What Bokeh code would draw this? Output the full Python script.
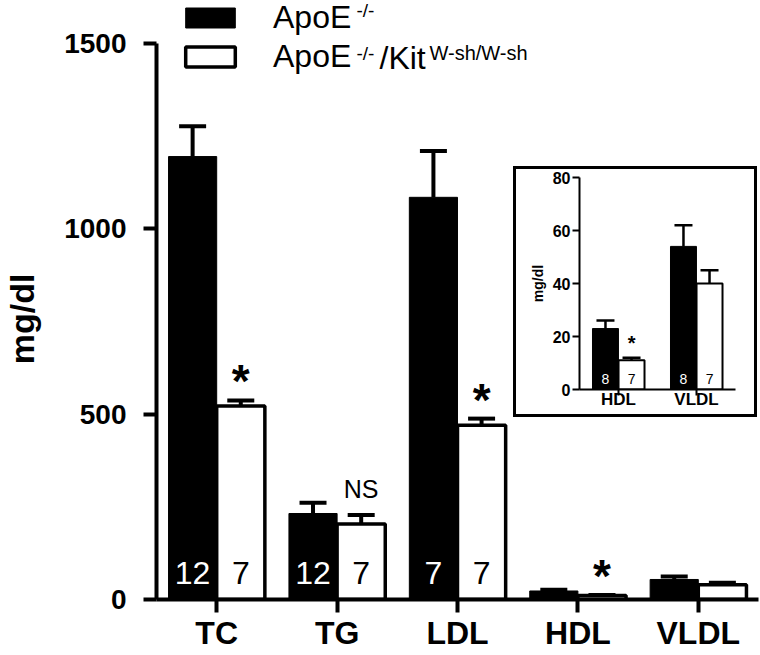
from bokeh.plotting import figure
from bokeh.models import (ColumnDataSource, FactorRange, Range1d, Whisker, TeeHead,
                          FixedTicker, Legend, LegendItem, Label)
from bokeh.transform import dodge
from bokeh.layouts import column
from bokeh.core.properties import value
from bokeh.embed import file_html
from bokeh.resources import INLINE

# ---------------- data ----------------
categories = ["TC", "TG", "LDL", "HDL", "VLDL"]
apoe_mean = [1195, 232, 1085, 23, 54]
apoe_sem = [82, 29, 125, 3, 8]
kit_mean = [522, 204, 470, 11, 40]
kit_sem = [15, 24, 18, 1, 5]
apoe_n = ["12", "12", "7", "", ""]
kit_n = ["7", "7", "7", "", ""]
kit_sig = ["*", "NS", "*", "*", ""]

inset_categories = ["HDL", "VLDL"]
inset_apoe_mean = [23, 54]
inset_apoe_sem = [3, 8]
inset_kit_mean = [11, 40]
inset_kit_sem = [1, 5]
inset_apoe_n = ["8", "8"]
inset_kit_n = ["7", "7"]
inset_sig = ["*", ""]

main_ticks = [0, 500, 1000, 1500]
inset_ticks = [0, 20, 40, 60, 80]

FONT = "'Liberation Sans', Arial, sans-serif"
NBSP = "\u00a0"

# ---------------- main figure ----------------
src = ColumnDataSource(dict(
    cat=categories,
    apoe=apoe_mean,
    apoe_up=[m + s for m, s in zip(apoe_mean, apoe_sem)],
    kit=kit_mean,
    kit_up=[m + s for m, s in zip(kit_mean, kit_sem)],
    apoe_n=apoe_n, kit_n=kit_n,
))
star_idx = [i for i, s in enumerate(kit_sig) if s == "*"]
ns_idx = [i for i, s in enumerate(kit_sig) if s == "NS"]
star_src = ColumnDataSource(dict(cat=[categories[i] for i in star_idx],
                                 y=[kit_mean[i] + kit_sem[i] for i in star_idx],
                                 t=[kit_sig[i] for i in star_idx]))
ns_src = ColumnDataSource(dict(cat=[categories[i] for i in ns_idx],
                               y=[kit_mean[i] + kit_sem[i] for i in ns_idx],
                               t=[kit_sig[i] for i in ns_idx]))

p = figure(x_range=FactorRange(*categories, range_padding=0), y_range=Range1d(0, 1616),
           width=760, height=655, output_backend="svg", toolbar_location=None,
           min_border_left=155, min_border_right=2, min_border_top=0, min_border_bottom=56,
           frame_align=False)
p.outline_line_color = None
p.xgrid.grid_line_color = None
p.ygrid.grid_line_color = None
p.background_fill_color = "white"
p.border_fill_color = "white"

xa = p.xaxis[0]
xa.axis_line_width = 4
xa.major_tick_line_width = 4
xa.major_tick_out = 13
xa.major_tick_in = 0
xa.major_label_text_font = FONT
xa.major_label_text_font_style = "bold"
xa.major_label_text_font_size = "32px"
xa.major_label_text_color = "black"
xa.major_label_text_line_height = 0.8
xa.major_label_standoff = 2
xa.axis_label_standoff = 0

ya = p.yaxis[0]
ya.ticker = FixedTicker(ticks=main_ticks)
ya.bounds = (0, 1500)
ya.axis_line_width = 4
ya.major_tick_line_width = 4
ya.major_tick_out = 13
ya.major_tick_in = 0
ya.minor_tick_out = 0
ya.minor_tick_in = 0
ya.major_label_text_font = FONT
ya.major_label_text_font_style = "bold"
ya.major_label_text_font_size = "28px"
ya.major_label_text_color = "black"
ya.major_label_standoff = 17
ya.axis_label = "mg/dl" + NBSP * 4
ya.axis_label_text_font = FONT
ya.axis_label_text_font_style = "bold"
ya.axis_label_text_font_size = "34px"
ya.axis_label_text_color = "black"
ya.axis_label_standoff = 20

r1 = p.vbar(x=dodge("cat", -0.2, range=p.x_range), top="apoe", width=0.4, source=src,
            fill_color="black", line_color="black", line_width=1)
r2 = p.vbar(x=dodge("cat", 0.2, range=p.x_range), top="kit", width=0.4, source=src,
            fill_color="white", line_color="black", line_width=3.5)

for off, lo, up in [(-0.2, "apoe", "apoe_up"), (0.2, "kit", "kit_up")]:
    p.add_layout(Whisker(base=dodge("cat", off, range=p.x_range), lower=lo, upper=up,
                         source=src, dimension="height", line_width=4, line_color="black",
                         upper_head=TeeHead(size=27, line_width=4, line_color="black"),
                         lower_head=None, level="annotation"))

p.text(x=dodge("cat", -0.2, range=p.x_range), y=0, text="apoe_n", source=src,
       text_color="white", text_font=value(FONT), text_font_size="32px",
       text_align="center", text_baseline="middle", y_offset=-27)
p.text(x=dodge("cat", 0.2, range=p.x_range), y=0, text="kit_n", source=src,
       text_color="black", text_font=value(FONT), text_font_size="32px",
       text_align="center", text_baseline="middle", y_offset=-27)
p.text(x=dodge("cat", 0.2, range=p.x_range), y="y", text="t", source=star_src,
       text_color="black", text_font=value(FONT), text_font_style="bold",
       text_font_size="46px", text_align="center", text_baseline="middle", y_offset=-19)
p.text(x=dodge("cat", 0.2, range=p.x_range), y="y", text="t", source=ns_src,
       text_color="black", text_font=value(FONT), text_font_size="25px",
       text_align="center", text_baseline="middle", y_offset=-26)

legend = Legend(items=[LegendItem(label="ApoE", renderers=[r1]),
                       LegendItem(label="ApoE", renderers=[r2])],
                location=(23, 524), glyph_width=62, glyph_height=25, label_standoff=32,
                spacing=2, padding=0, margin=0, border_line_color=None,
                background_fill_alpha=0, label_text_font=FONT, label_text_color="black",
                label_text_font_size="32px", label_height=25)
p.add_layout(legend)

lab_kw = dict(x_units="screen", y_units="screen", text_font=FONT, text_color="black",
              text_baseline="middle")
p.add_layout(Label(x=200, y=589, text="-/-", text_font_size="19px", **lab_kw))
p.add_layout(Label(x=200, y=546, text="-/-", text_font_size="19px", **lab_kw))
p.add_layout(Label(x=223, y=542, text="/Kit", text_font_size="32px", **lab_kw))
p.add_layout(Label(x=273, y=547, text="W-sh/W-sh", text_font_size="20px", **lab_kw))

# ---------------- inset ----------------
isrc = ColumnDataSource(dict(
    cat=inset_categories,
    apoe=inset_apoe_mean,
    apoe_up=[m + s for m, s in zip(inset_apoe_mean, inset_apoe_sem)],
    kit=inset_kit_mean,
    kit_up=[m + s for m, s in zip(inset_kit_mean, inset_kit_sem)],
    apoe_n=inset_apoe_n, kit_n=inset_kit_n, sig=inset_sig,
))

inset = figure(x_range=FactorRange(*inset_categories, range_padding=0), y_range=Range1d(0, 80),
               width=238, height=245, output_backend="svg", toolbar_location=None,
               min_border_left=63, min_border_right=25, min_border_top=8, min_border_bottom=31,
               frame_align=False,
               styles={"border": "3px solid black", "box-sizing": "content-box",
                       "background": "white"},
               margin=(166 - 655, 0, 0, 513))
inset.outline_line_color = None
inset.xgrid.grid_line_color = None
inset.ygrid.grid_line_color = None

ixa = inset.xaxis[0]
ixa.axis_line_width = 2
ixa.major_tick_line_width = 2
ixa.major_tick_out = 6
ixa.major_tick_in = 0
ixa.major_label_text_font = FONT
ixa.major_label_text_font_style = "bold"
ixa.major_label_text_font_size = "17px"
ixa.major_label_text_color = "black"
ixa.major_label_text_line_height = 0.8
ixa.major_label_standoff = -6
ixa.axis_label_standoff = 0

iya = inset.yaxis[0]
iya.ticker = FixedTicker(ticks=inset_ticks)
iya.bounds = (0, 80)
iya.axis_line_width = 2
iya.major_tick_line_width = 2
iya.major_tick_out = 7
iya.major_tick_in = 0
iya.minor_tick_out = 0
iya.minor_tick_in = 0
iya.major_label_text_font = FONT
iya.major_label_text_font_style = "bold"
iya.major_label_text_font_size = "16px"
iya.major_label_text_color = "black"
iya.major_label_standoff = 2
iya.axis_label = "mg/dl"
iya.axis_label_text_font = FONT
iya.axis_label_text_font_style = "bold"
iya.axis_label_text_font_size = "14px"
iya.axis_label_text_color = "black"
iya.axis_label_standoff = 4

inset.vbar(x=dodge("cat", -0.167, range=inset.x_range), top="apoe", width=0.333, source=isrc,
           fill_color="black", line_color="black", line_width=1)
inset.vbar(x=dodge("cat", 0.167, range=inset.x_range), top="kit", width=0.333, source=isrc,
           fill_color="white", line_color="black", line_width=2)
for off, lo, up in [(-0.167, "apoe", "apoe_up"), (0.167, "kit", "kit_up")]:
    inset.add_layout(Whisker(base=dodge("cat", off, range=inset.x_range), lower=lo, upper=up,
                             source=isrc, dimension="height", line_width=2.5,
                             line_color="black",
                             upper_head=TeeHead(size=18, line_width=2.5, line_color="black"),
                             lower_head=None, level="annotation"))
inset.text(x=dodge("cat", -0.167, range=inset.x_range), y=0, text="apoe_n", source=isrc,
           text_color="white", text_font=value(FONT), text_font_size="14px",
           text_align="center", text_baseline="middle", y_offset=-11)
inset.text(x=dodge("cat", 0.167, range=inset.x_range), y=0, text="kit_n", source=isrc,
           text_color="black", text_font=value(FONT), text_font_size="14px",
           text_align="center", text_baseline="middle", y_offset=-11)
inset.text(x=dodge("cat", 0.167, range=inset.x_range), y="kit_up", text="sig", source=isrc,
           text_color="black", text_font=value(FONT), text_font_style="bold",
           text_font_size="20px", text_align="center", text_baseline="middle",
           y_offset=-15)

layout = column(p, inset, spacing=0)

open("out.html", "w").write(file_html(layout, INLINE))
